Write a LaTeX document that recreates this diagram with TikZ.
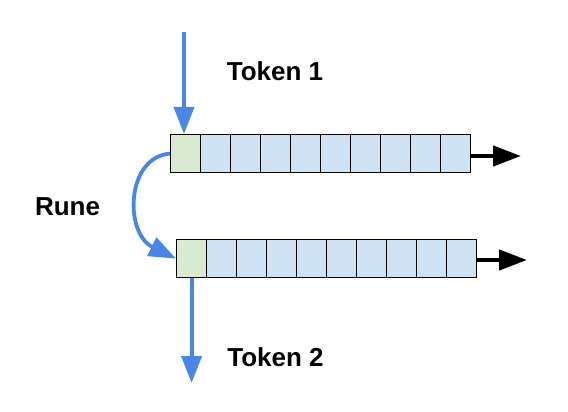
\documentclass[tikz,border=0pt]{standalone}
\usepackage{fontspec}
\setmainfont{Liberation Sans}
\usetikzlibrary{arrows.meta}
\definecolor{cellgreen}{HTML}{D9EAD3}
\definecolor{cellblue}{HTML}{CFE2F3}
\definecolor{arrowblue}{HTML}{4A86E8}
\begin{document}
\begin{tikzpicture}[x=1pt,y=-1pt,
  cellbox/.style={draw=black,line width=1.2pt,minimum width=30pt,minimum height=38pt,inner sep=0pt,anchor=north west,fill=cellblue},
  firstcell/.style={cellbox,fill=cellgreen},
  bluearrow/.style={draw=arrowblue,line width=3.8pt,-{Triangle[length=27pt,width=20pt]}},
  blackarrow/.style={draw=black,line width=4.5pt,-{Triangle[length=28pt,width=20pt]}},
  lbl/.style={font=\bfseries\fontsize{26}{30}\selectfont,inner sep=0pt}]
\useasboundingbox (0,0) rectangle (568,412);
% top row
\node[firstcell] (t0) at (170,134) {};
\foreach \i in {1,...,9}{
  \node[cellbox] (t\i) at (170+30*\i,134) {};
}
% bottom row
\node[firstcell] (b0) at (176,239) {};
\foreach \i in {1,...,9}{
  \node[cellbox] (b\i) at (176+30*\i,239) {};
}
\coordinate (tin) at (184,32);
\coordinate (bout) at (b0.south |- 0,383);
\coordinate (tend) at (521,156);
\coordinate (bend) at (527,260);
\draw[bluearrow] (tin) -- (tin |- t0.north);
\draw[bluearrow] (b0.south) -- (bout);
\draw[bluearrow] (t0.west) .. controls (126,157) and (124,233) .. (b0.west);
\draw[blackarrow] (t9.east |- tend) -- (tend);
\draw[blackarrow] (b9.east |- bend) -- (bend);
\node[lbl] (tok1) at (275,71) {Token 1};
\node[lbl] (tok2) at (275.5,357) {Token 2};
\node[lbl] (rune) at (67.5,207) {Rune};
\end{tikzpicture}
\end{document}
